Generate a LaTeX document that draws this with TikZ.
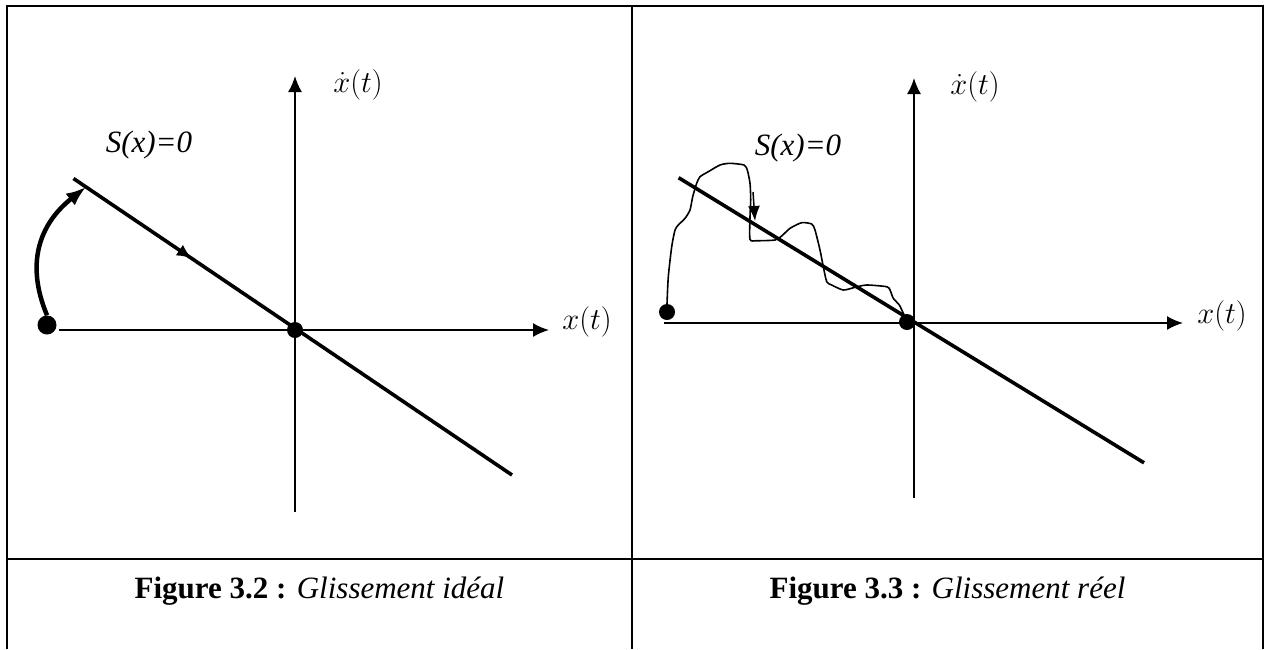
\RequirePackage{fix-cm}
\documentclass[tikz,border=0pt]{standalone}
\usepackage{fontspec}
\setmainfont{Liberation Serif}
\usetikzlibrary{arrows.meta,decorations.markings}

\begin{document}
\begin{tikzpicture}[x=1pt, y=-1pt, >={Latex[length=16pt,width=14pt]},
    truc/.style={line width=1.8pt, ->},
    khung/.style={line width=2pt},
    truot/.style={line width=3.6pt},
    diem/.style={circle, fill, inner sep=0pt, minimum size=#1},
    nhan/.style={font=\fontsize{31}{36}\selectfont\itshape},
    toan/.style={font=\fontsize{30.5}{35}\selectfont},
    chuthich/.style={font=\fontsize{31}{36}\selectfont, anchor=base}]
    \useasboundingbox (0,0) rectangle (1265,649);

    % 1. Khung bảng
    \draw[khung] (7,649) -- (7,6) -- (1263,6) -- (1263,649);
    \draw[khung] (632,6) -- (632,649);
    \draw[khung] (7,559) -- (1263,559);

    % 2. Hình 3.2: hệ trục
    \coordinate (O1) at (295,330);
    \coordinate (X1a) at (59,330);  \coordinate (X1b) at (549,330);
    \coordinate (Y1a) at (295,512); \coordinate (Y1b) at (295,76);
    \draw[truc] (X1a) -- (X1b);
    \draw[truc] (Y1a) -- (Y1b);
    \node[toan] (lx1) at (587,322) {$x(t)$};
    \node[toan] (ly1) at (358,85) {$\dot{x}(t)$};

    % 3. Mặt trượt và quỹ đạo lý tưởng
    \coordinate (S1a) at (73.5,178.5); \coordinate (S1b) at (512,475);
    \draw[truot, postaction={decorate},
        decoration={markings, mark=at position 0.27 with {\arrow{Latex[length=15pt,width=13pt]}}}]
        (S1a) -- (S1b);
    \node[nhan] (s1) at (149,145) {S(x)=0};
    \node[diem=19pt] (d1) at (47,325) {};
    \node[diem=16pt] (o1) at (O1) {};
    \coordinate (J1) at (86,187);
    \draw[line width=4.5pt, -{Latex[length=20pt,width=15pt]}]
        (d1.north) .. controls (26,265) and (38,225) .. (J1);

    % 4. Hình 3.3: hệ trục
    \coordinate (O2) at (914,323);
    \coordinate (X2a) at (664,323); \coordinate (X2b) at (1183,323);
    \coordinate (Y2a) at (914,498); \coordinate (Y2b) at (914,78);
    \draw[truc] (X2a) -- (X2b);
    \draw[truc] (Y2a) -- (Y2b);
    \node[toan] (lx2) at (1222,316) {$x(t)$};
    \node[toan] (ly2) at (975,87) {$\dot{x}(t)$};

    % 5. Mặt trượt và quỹ đạo thực
    \coordinate (S2a) at (678.6,177.7); \coordinate (S2b) at (1144,462.8);
    \draw[truot] (S2a) -- (S2b);
    \node[nhan] (s2) at (798,148) {S(x)=0};
    \node[diem=16pt] (d2) at (667,312) {};
    \node[diem=16pt] (o2) at (907,322) {};
    \draw[line width=1.6pt] plot[smooth, tension=0.4] coordinates {
        (d2.north) (668.3,276.7) (671.7,246.7) (675,230) (678.3,225) (685,218.3)
        (690,210) (692.7,196.7) (696.7,183.3) (700,176.7) (708.3,171.7) (720,165)
        (730,163.3) (744,165) (747.3,170) (750,183.3) (750.7,200) (750,216.7)
        (750,239.3) (756.7,240.7) (775,240) (781.7,236) (790,228.3) (801.7,222.7)
        (811.7,224) (815,230) (820,250) (823.3,266.7) (826.7,281.7) (831.7,285)
        (843.3,290) (855,287.3) (866.7,285) (886.7,286.7) (890,290) (893.3,298.3)
        (899.3,305) (903.3,313.3) (o2)};
    \coordinate (M1) at (753,192); \coordinate (M2) at (755,221);
    \draw[line width=1.5pt, -{Latex[length=15pt,width=12pt]}] (M1) -- (M2);

    % 6. Chú thích
    \node[chuthich] (c1) at (319.5,598) {\textbf{Figure 3.2 :} \textit{Glissement idéal}};
    \node[chuthich] (c2) at (947.5,598) {\textbf{Figure 3.3 :} \textit{Glissement réel}};
\end{tikzpicture}
\end{document}
